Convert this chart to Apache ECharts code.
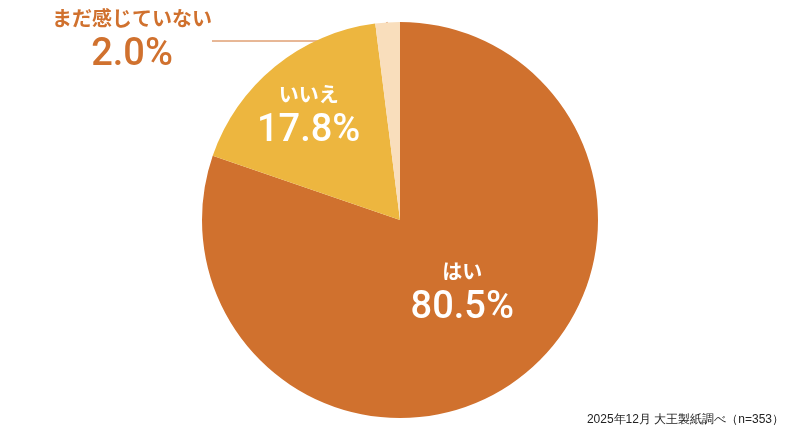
<!DOCTYPE html>
<html><head><meta charset="utf-8">
<script src="https://cdn.jsdelivr.net/npm/echarts@6/dist/echarts.min.js"></script>
<style>html,body{margin:0;background:#fff}#c{width:800px;height:440px}</style>
</head><body><div id="c"></div>
<script>
const names = ["はい", "いいえ", "まだ感じていない"];
const values = [80.5, 17.8, 2.0];
const colors = ["#D0712E", "#EDB63F", "#F9DEBC"];

const chart = echarts.init(document.getElementById("c"));
const font = "'Noto Sans CJK JP', 'Noto Sans', sans-serif";
chart.setOption({
  animation: false,
  textStyle: { fontFamily: font },
  graphic: [{
    type: "text", right: 16, bottom: 14,
    style: { text: "2025年12月 大王製紙調べ（n=353）", fontSize: 12, fill: "#222", font: "500 12px " + font }
  }],
  series: [{
    type: "pie",
    center: [400, 220],
    radius: 198,
    startAngle: 90,
    clockwise: true,
    data: names.map((n, i) => ({
      name: n, value: values[i], itemStyle: { color: colors[i] },
      label: i === 0 ? { position: "inside", offset: [3, -10] }
        : i === 1 ? { position: "inside", offset: [-27, -24] }
        : { position: "outside", color: "#D0712E" },
      labelLine: i === 2 ? { show: true, length: 8, length2: 140, lineStyle: { color: "#D0712E", width: 1 } } : { show: false }
    })),
    label: {
      color: "#fff",
      formatter: p => "{n|" + p.name + "}\n{v|" + p.value.toFixed(1) + "%}",
      rich: {
        n: { fontSize: 20, fontWeight: "bold", fontFamily: font, lineHeight: 30, align: "center" },
        v: { fontSize: 38, fontFamily: "Roboto", fontWeight: 500, lineHeight: 44, align: "center" }
      }
    },
    labelLayout: p => p.dataIndex === 2 ? { x: 132, y: 40, align: "center", verticalAlign: "middle" } : {}
  }]
});
</script></body></html>
